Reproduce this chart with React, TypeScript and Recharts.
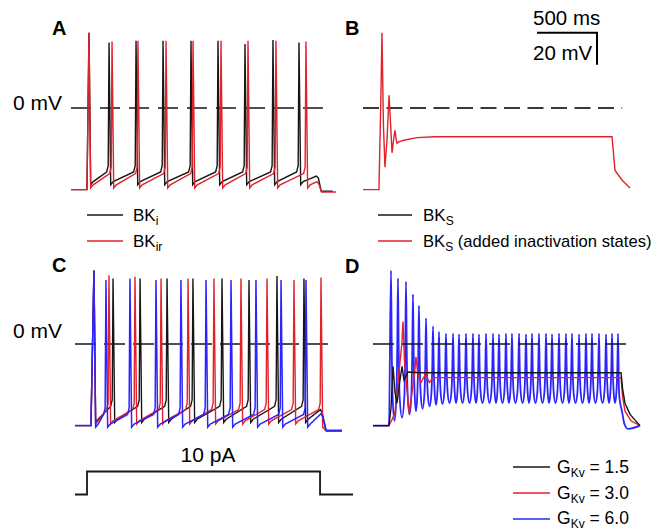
import { LineChart, Line, XAxis, YAxis } from "recharts";
import type { ReactNode } from "react";

type Pt = { t: number; v: number };

// shared scales: time in ms, membrane potential in mV
const T_MAX = 2250;
const V_MIN = -60;
const V_MAX = 50;
const PX_MS = 0.12; // 500 ms scale bar = 60 px
const PX_MV = 1.6; // 20 mV scale bar = 32 px
const REST = -51;
const STIM_ON = 133;

const BLACK = "#161616";
const RED = "#e2212b";
const BLUE = "#2b24ff";
const FONT = "'Liberation Sans', Arial, Helvetica, sans-serif";

// 0 mV reference line
const zeroT = [0, 2160];

// ---- A: BKi (black) vs BKir (red)
const aBkiSpikes = [150, 317, 542, 767, 1000, 1225, 1450, 1683, 1900];
const aBkiPeaks = [47, 41, 42, 42, 42, 42, 40, 42.5, 41];
const aBkiTail = [[1914, -48], [1935, -46], [2045, -42.5], [2062, -44], [2085, -52], [2180, -52]];
const aBkirSpikes = [150, 342, 558, 792, 1017, 1250, 1475, 1708, 1958];
const aBkirPeaks = [47, 41.5, 42, 42, 42, 42, 42, 42, 41.5];
const aBkirTail = [[1972, -50], [1993, -48], [2050, -46], [2065, -47.5], [2088, -52.5], [2210, -52.5]];

// ---- B: BKs with added inactivation states (red)
const bRedT = [0, 133, 150, 158, 170, 183, 200, 217, 230, 242, 258, 267, 275, 283, 300, 350, 450, 600, 900, 2075, 2100, 2158, 2225];
const bRedV = [-51, -51, 10, 47, -10, -37, -20, 8, -10, -28, -18, -14, -19, -22, -21, -20, -18.5, -18, -18, -18, -39, -45, -50];
// scale bar: 500 ms / 20 mV
const scaleT = [1450, 1950, 1950];
const scaleV = [47, 47, 27];

// ---- C: GKv = 1.5 (black), 3.0 (red), 6.0 (blue)
const cK15Spikes = [158, 317, 542, 767, 983, 1225, 1450, 1683, 1908];
const cK15Peaks = [46, 41, 41, 41, 41, 41, 40, 42.5, 41];
const cK15Tail = [[1922, -49], [1943, -47], [2045, -41], [2060, -43], [2092, -54], [2225, -54]];
const cK30Spikes = [158, 283, 500, 717, 942, 1158, 1383, 1600, 1825, 2050];
const cK30Peaks = [46, 43, 42, 41, 41, 41, 41, 41, 40, 41.5];
const cK30Tail = [[2064, -52], [2095, -54.5], [2225, -54.5]];
const cK60Spikes = [158, 258, 458, 675, 883, 1092, 1300, 1508, 1717, 1925];
const cK60Peaks = [46, 40, 41, 40, 40, 40, 40, 40, 40, 40];
const cK60Tail = [[1939, -52], [1960, -50], [2050, -43.5], [2065, -45.5], [2092, -54], [2225, -54]];

// ---- D: same conductances, sustained depolarisation
const dK15T = [0, 133, 150, 167, 183, 200, 220, 242, 258, 292, 400, 2067, 2080, 2100, 2142, 2225];
const dK15V = [-51, -51, -40, -14, -30, -37, -25, -14, -22.5, -17.5, -18, -18, -28, -37, -44, -51];
const dK30T = [0, 133, 160, 183, 240, 250, 262, 300, 345, 358, 372, 400, 430, 442, 456, 470, 500, 2067, 2080, 2100, 2150, 2225];
const dK30V = [-51, -51, -47, -43, 0, 14, -10, -43, -20, -8, -18, -24, -20, -16, -22, -24, -21, -21, -33, -42, -48, -51];
const dK60Spikes = [150, 208, 275, 333, 383, 442, 500, 550, 608, 667, 717, 775, 833, 883, 942, 1000, 1050, 1108, 1158, 1217, 1275, 1325, 1383, 1442, 1492, 1550, 1608, 1658, 1717, 1775, 1825, 1883, 1942, 1992, 2042];
const dK60Peaks = [46, 41, 39, 31, 24, 16, 11, 7.5, 6.5, 6.5, 6, 6.5, 6.5, 6, 6.5, 6.5, 6, 6.5, 6.5, 6.5, 6, 6.5, 6.5, 6.5, 6, 6.5, 6.5, 6.5, 6, 6.5, 6.5, 6.5, 6, 6.5, 6.5];
const dK60Troughs = [-48, -46, -44, -42, -40.5, -39, -38, -37.5, -37, -37, -37, -37, -37, -37, -37, -37, -37, -37, -37, -37, -37, -37, -37, -37, -37, -37, -37, -37, -37, -37, -37, -37, -37, -37, -37];
const dK60Tail = [[2050, -30], [2060, -37], [2075, -42], [2095, -50], [2125, -53], [2225, -51]];

// ---- current step
const stimT = [0, 100, 100, 2042, 2042, 2317];
const stimI = [0, 0, 10, 10, 0, 0];

// shape of one spike as seen in the traces: offsets in ms around the spike time
const preShape = [[-20, 0], [-7, 4]]; // [ms, mV above threshold level]
const postShape = [[14, "trough"], [35, "kink"]] as const;
const oscShape = [[6, 0.5], [14, 0.15]]; // [ms, fraction trough→peak]

type TrainLevels = { trough: number; kink: number; pre: number };

function zip(ts: number[], vs: number[]): Pt[] {
  return ts.map((t, i) => ({ t, v: vs[i] }));
}

function spikeTrain(spikes: number[], peaks: number[], lv: TrainLevels, tail: number[][]): Pt[] {
  const pts: Pt[] = [{ t: 0, v: REST }, { t: STIM_ON, v: REST }];
  spikes.forEach((ts, i) => {
    if (i > 0) preShape.forEach(([dt, dv]) => pts.push({ t: ts + dt, v: lv.pre + dv }));
    pts.push({ t: ts, v: peaks[i] });
    if (i < spikes.length - 1) postShape.forEach(([dt, k]) => pts.push({ t: ts + dt, v: lv[k] }));
  });
  tail.forEach(([t, v]) => pts.push({ t, v }));
  return pts;
}

function oscTrain(spikes: number[], peaks: number[], troughs: number[], tail: number[][]): Pt[] {
  const pts: Pt[] = [{ t: 0, v: REST }, { t: STIM_ON, v: REST }];
  spikes.forEach((ts, i) => {
    if (i > 0) {
      const lo = troughs[i - 1];
      [...oscShape].reverse().forEach(([dt, f]) => pts.push({ t: ts - dt, v: lo + f * (peaks[i] - lo) }));
    }
    pts.push({ t: ts, v: peaks[i] });
    if (i < spikes.length - 1) {
      const lo = troughs[i];
      oscShape.forEach(([dt, f]) => pts.push({ t: ts + dt, v: lo + f * (peaks[i] - lo) }));
      pts.push({ t: (ts + spikes[i + 1]) / 2, v: lo });
    }
  });
  tail.forEach(([t, v]) => pts.push({ t, v }));
  return pts;
}

const zeroLine = zeroT.map((t) => ({ t, v: 0 }));

function trace(name: string, data: Pt[], color: string, width = 1.4, dash?: string, curve: "linear" | "monotone" = "linear") {
  return (
    <Line
      key={name}
      name={name}
      data={data}
      dataKey="v"
      type={curve}
      stroke={color}
      strokeWidth={width}
      strokeDasharray={dash}
      dot={false}
      activeDot={false}
      isAnimationActive={false}
    />
  );
}

function Panel({ left, zeroY, children }: { left: number; zeroY: number; children: ReactNode }) {
  return (
    <div style={{ position: "absolute", left, top: zeroY - V_MAX * PX_MV }}>
      <LineChart width={T_MAX * PX_MS} height={(V_MAX - V_MIN) * PX_MV} margin={{ top: 0, right: 0, bottom: 0, left: 0 }}>
        <XAxis type="number" dataKey="t" domain={[0, T_MAX]} allowDataOverflow hide />
        <YAxis type="number" domain={[V_MIN, V_MAX]} allowDataOverflow hide />
        {children}
      </LineChart>
    </div>
  );
}

function Sub({ children }: { children: ReactNode }) {
  return (
    <tspan fontSize={12} dy={4}>
      {children}
    </tspan>
  );
}

export default function App() {
  const aBki = spikeTrain(aBkiSpikes, aBkiPeaks, { trough: -48, kink: -46, pre: -40 }, aBkiTail);
  const aBkir = spikeTrain(aBkirSpikes, aBkirPeaks, { trough: -50, kink: -48, pre: -41 }, aBkirTail);
  const cK15 = spikeTrain(cK15Spikes, cK15Peaks, { trough: -49, kink: -47, pre: -39 }, cK15Tail);
  const cK30 = spikeTrain(cK30Spikes, cK30Peaks, { trough: -50, kink: -48, pre: -41 }, cK30Tail);
  const cK60 = spikeTrain(cK60Spikes, cK60Peaks, { trough: -52, kink: -50, pre: -44 }, cK60Tail);
  const dK60 = oscTrain(dK60Spikes, dK60Peaks, dK60Troughs, dK60Tail);
  const stim = stimT.map((t, i) => ({ t, v: stimI[i] }));

  return (
    <div style={{ position: "relative", width: 663, height: 531, overflow: "hidden", background: "#fff", fontFamily: FONT }}>
      <style>{"body{margin:0}"}</style>

      {/* A */}
      <Panel left={71} zeroY={108}>
        {trace("zeroA", zeroLine, BLACK, 1.5, "20 9")}
        {trace("BKi", aBki, BLACK)}
        {trace("BKir", aBkir, RED)}
      </Panel>

      {/* B */}
      <Panel left={363} zeroY={108}>
        {trace("zeroB", zeroLine, "#3a3a3a", 1.8, "16 7.5")}
        {trace("BKs inact", zip(bRedT, bRedV), RED)}
        {trace("scale", zip(scaleT, scaleV), "#000", 2)}
      </Panel>

      {/* C */}
      <Panel left={75} zeroY={344}>
        {trace("zeroC", zeroLine, BLACK, 1.5, "21 8")}
        {trace("c1.5", cK15, BLACK)}
        {trace("c3.0", cK30, RED)}
        {trace("c6.0", cK60, BLUE, 1.5)}
      </Panel>

      {/* D */}
      <Panel left={373} zeroY={344}>
        {trace("d6.0", dK60, BLUE, 1.8, undefined, "monotone")}
        {trace("d3.0", zip(dK30T, dK30V), RED)}
        {trace("d1.5", zip(dK15T, dK15V), BLACK)}
        {trace("zeroD", zeroLine, BLACK, 1.5, "21 8")}
      </Panel>

      {/* current step */}
      <div style={{ position: "absolute", left: 75, top: 471 - 5 * 2.3 }}>
        <LineChart width={288} height={20 * 2.3} margin={{ top: 0, right: 0, bottom: 0, left: 0 }}>
          <XAxis type="number" dataKey="t" domain={[0, 2400]} allowDataOverflow hide />
          <YAxis type="number" domain={[-5, 15]} allowDataOverflow hide />
          {trace("stim", stim, BLACK, 1.8)}
        </LineChart>
      </div>

      <svg width={663} height={531} style={{ position: "absolute", left: 0, top: 0, pointerEvents: "none" }} fontFamily={FONT} fill="#000">
        <text x={52} y={35} fontSize={20} fontWeight="bold">A</text>
        <text x={345} y={35} fontSize={20} fontWeight="bold">B</text>
        <text x={52} y={272} fontSize={20} fontWeight="bold">C</text>
        <text x={345} y={273} fontSize={20} fontWeight="bold">D</text>

        <text x={13} y={110} fontSize={21}>0 mV</text>
        <text x={13} y={338} fontSize={21}>0 mV</text>

        <text x={533} y={25} fontSize={20.5}>500 ms</text>
        <text x={533} y={60} fontSize={20.5}>20 mV</text>

        <line x1={87} x2={123} y1={215} y2={215} stroke={BLACK} strokeWidth={1.6} />
        <text x={133} y={221} fontSize={17}>BK<Sub>i</Sub></text>
        <line x1={87} x2={123} y1={241} y2={241} stroke={RED} strokeWidth={1.6} />
        <text x={133} y={247} fontSize={17}>BK<Sub>ir</Sub></text>

        <line x1={378} x2={412} y1={215} y2={215} stroke={BLACK} strokeWidth={1.6} />
        <text x={423} y={221} fontSize={17}>BK<Sub>S</Sub></text>
        <line x1={378} x2={412} y1={241} y2={241} stroke={RED} strokeWidth={1.6} />
        <text x={423} y={247} fontSize={16.6}>
          BK<Sub>S</Sub>
          <tspan dy={-4}> (added inactivation states)</tspan>
        </text>

        <text x={208} y={462} fontSize={21} textAnchor="middle">10 pA</text>

        <line x1={513} x2={550} y1={467} y2={467} stroke={BLACK} strokeWidth={1.6} />
        <text x={557} y={473} fontSize={17.5}>G<Sub>Kv</Sub><tspan dy={-4}> = 1.5</tspan></text>
        <line x1={513} x2={550} y1={493} y2={493} stroke={RED} strokeWidth={1.6} />
        <text x={557} y={499} fontSize={17.5}>G<Sub>Kv</Sub><tspan dy={-4}> = 3.0</tspan></text>
        <line x1={513} x2={550} y1={519} y2={519} stroke={BLUE} strokeWidth={1.6} />
        <text x={557} y={524} fontSize={17.5}>G<Sub>Kv</Sub><tspan dy={-4}> = 6.0</tspan></text>
      </svg>
    </div>
  );
}
